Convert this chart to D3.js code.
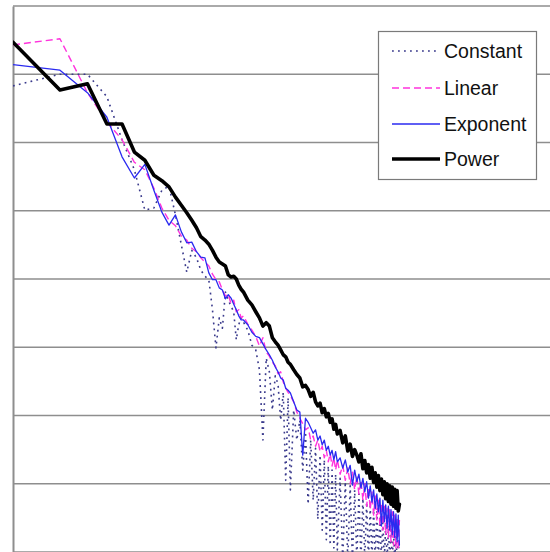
<!DOCTYPE html>
<html>
<head>
<meta charset="utf-8">
<script src="https://cdn.jsdelivr.net/npm/d3@7"></script>
<style>
  html, body { margin: 0; padding: 0; background: #fff; }
  svg { display: block; }
</style>
</head>
<body>
<script>
// Node degree (x) for every sample of the four degree distributions
const degrees = [
  1, 2, 3, 4, 5, 6, 7, 8, 9, 10,
  11, 12, 13, 14, 15, 16, 17, 18, 19, 20,
  21, 22, 23, 24, 25, 26, 27, 28, 29, 30,
  32, 34, 36, 38, 40, 42, 44, 46, 48, 50, 52, 54, 56, 58, 60,
  63, 66, 69, 72, 75, 78, 81, 84, 87, 90, 93, 96, 99, 102, 105, 108, 111, 114, 117, 120,
  125, 130, 135, 140, 145, 150, 155, 160, 165, 170, 175, 180, 185, 190, 195, 200,
  205, 210, 215, 220, 225, 230, 235, 240, 245, 250, 255, 260, 265, 270, 275, 280,
  285, 290, 295, 300
];

const seriesNames = ["Constant", "Linear", "Exponent", "Power"];

// log10 of the share of nodes with each degree
const constantLog10 = [
  -1.17, -1.00, -1.00, -1.33, -1.96, -2.40, -2.99, -2.96, -2.70, -2.64,
  -3.06, -3.50, -3.90, -3.58, -3.69, -3.87, -3.96, -4.01, -4.45, -5.01,
  -4.57, -4.72, -4.19, -4.31, -4.40, -4.48, -4.89, -4.67, -4.57, -4.63,
  -4.75, -4.97, -5.04, -5.33, -6.36, -5.16, -5.36, -5.92, -5.42, -5.54, -6.07, -5.66, -6.95, -5.74, -7.09,
  -5.92, -6.36, -6.07, -6.80, -6.24, -7.30, -6.36, -7.24, -6.48, -7.52, -6.58, -7.68, -6.65, -7.82, -6.74, -7.90, -6.80, -7.94, -6.86, -7.97,
  -6.92, -8.12, -6.97, -8.12, -7.03, -8.12, -7.09, -8.12, -7.15, -8.12, -7.21, -8.12, -7.27, -8.12, -7.33, -8.12,
  -7.38, -8.12, -7.41, -8.12, -7.47, -8.12, -7.53, -8.12, -7.59, -8.12, -7.65, -8.12, -7.68, -8.12, -7.71, -8.12,
  -7.75, -8.12, -7.80, -8.12
];

const linearLog10 = [
  -0.57, -0.48, -1.27, -1.70, -1.96, -2.29, -2.40, -2.67, -2.96, -3.14,
  -3.22, -3.37, -3.43, -3.55, -3.60, -3.69, -3.75, -3.81, -3.93, -4.01,
  -4.04, -4.16, -4.25, -4.22, -4.37, -4.31, -4.48, -4.45, -4.57, -4.54,
  -4.66, -4.75, -4.84, -4.98, -4.86, -5.07, -5.13, -5.22, -5.27, -5.39, -5.36, -5.51, -5.60, -5.66, -5.71,
  -5.80, -5.95, -6.04, -6.12, -6.21, -6.18, -6.36, -6.30, -6.45, -6.36, -6.53, -6.45, -6.62, -6.51, -6.68, -6.56, -6.74, -6.62, -6.80, -6.65,
  -6.86, -6.73, -6.95, -6.77, -7.00, -6.83, -7.09, -6.89, -7.15, -6.95, -7.24, -7.00, -7.33, -7.06, -7.38, -7.12,
  -7.46, -7.18, -7.53, -7.24, -7.62, -7.28, -7.68, -7.33, -7.74, -7.36, -7.79, -7.38, -7.85, -7.41, -7.90, -7.46,
  -7.94, -7.49, -7.97, -7.53
];

const exponentLog10 = [
  -0.86, -0.94, -1.27, -1.63, -2.21, -2.52, -2.32, -2.70, -3.02, -3.21,
  -3.06, -3.31, -3.47, -3.46, -3.60, -3.68, -3.69, -3.91, -4.01, -4.01,
  -4.13, -4.16, -4.29, -4.23, -4.28, -4.37, -4.45, -4.54, -4.60, -4.60,
  -4.67, -4.78, -4.84, -4.86, -4.95, -5.04, -5.11, -5.19, -5.29, -5.36, -5.45, -5.48, -5.60, -5.63, -5.67,
  -5.80, -5.92, -5.95, -6.58, -6.04, -6.10, -6.18, -6.26, -6.21, -6.36, -6.30, -6.43, -6.36, -6.51, -6.45, -6.58, -6.51, -6.65, -6.53, -6.68,
  -6.62, -6.77, -6.65, -6.83, -6.73, -7.02, -6.80, -6.97, -6.86, -7.06, -6.92, -7.12, -6.97, -7.21, -7.03, -7.27,
  -7.09, -7.36, -7.15, -7.41, -7.21, -7.62, -7.24, -7.56, -7.31, -7.65, -7.33, -7.68, -7.38, -7.75, -7.41, -7.79,
  -7.44, -7.85, -7.46, -7.90
];

const powerLog10 = [
  -0.53, -1.23, -1.14, -1.73, -1.73, -2.14, -2.26, -2.48, -2.56, -2.65,
  -2.80, -2.92, -3.03, -3.14, -3.25, -3.38, -3.43, -3.49, -3.58, -3.68,
  -3.75, -3.78, -3.81, -3.94, -3.97, -3.96, -4.00, -4.09, -4.15, -4.19,
  -4.31, -4.38, -4.48, -4.57, -4.69, -4.64, -4.69, -4.86, -4.92, -4.97, -5.04, -5.11, -5.14, -5.22, -5.25,
  -5.33, -5.40, -5.45, -5.58, -5.56, -5.62, -5.72, -5.66, -5.80, -5.86, -5.82, -5.96, -5.90, -6.02, -5.97, -6.10, -6.05, -6.20, -6.13, -6.27,
  -6.22, -6.40, -6.30, -6.52, -6.42, -6.60, -6.50, -6.58, -6.68, -6.56, -6.78, -6.66, -6.84, -6.72, -6.92, -6.76,
  -6.98, -6.84, -7.05, -6.88, -7.10, -6.93, -7.16, -6.97, -7.22, -7.00, -7.26, -7.03, -7.30, -7.05, -7.33, -7.08,
  -7.36, -7.10, -7.40, -7.30
];

// Decade gridlines of the probability axis
const yGridExponents = [0, -1, -2, -3, -4, -5, -6, -7, -8];

const width = 550, height = 552;
const plot = { left: 13, top: 6, right: 550, bottom: 552 };

const svg = d3.select("body").append("svg")
  .attr("width", width)
  .attr("height", height)
  .style("font-family", "'Liberation Sans', Arial, sans-serif");

const x = d3.scaleLog().domain([1, 2770]).range([plot.left, plot.right]);
const y = d3.scaleLog().domain([1e-8, 1]).range([plot.bottom, plot.top]);

// Horizontal gridlines at every decade
svg.append("g")
  .selectAll("line")
  .data(yGridExponents)
  .join("line")
  .attr("x1", plot.left)
  .attr("x2", plot.right)
  .attr("y1", d => y(Math.pow(10, d)))
  .attr("y2", d => y(Math.pow(10, d)))
  .attr("stroke", "#8e8e8e")
  .attr("stroke-width", 1.6);

// Left value axis line (no tick labels)
const yAxis = d3.axisLeft(y).tickValues([]).tickSizeOuter(0);
svg.append("g")
  .attr("transform", `translate(${plot.left},0)`)
  .call(yAxis)
  .call(g => g.select(".domain").attr("stroke", "#8e8e8e").attr("stroke-width", 2));

svg.append("clipPath").attr("id", "plot-clip")
  .append("rect")
  .attr("x", plot.left)
  .attr("y", plot.top)
  .attr("width", plot.right - plot.left)
  .attr("height", plot.bottom - plot.top);

const styles = {
  Constant: { color: "#3a3a8c", width: 1.6, dash: "1.8,4.2", values: constantLog10 },
  Linear:   { color: "#ff33dd", width: 1.4, dash: "7,4",     values: linearLog10 },
  Exponent: { color: "#2a2af0", width: 1.3, dash: null,      values: exponentLog10 },
  Power:    { color: "#000000", width: 3.6, dash: null,      values: powerLog10 }
};

const line = d3.line()
  .x(d => x(d[0]))
  .y(d => y(d[1]));

const lines = svg.append("g").attr("clip-path", "url(#plot-clip)");
seriesNames.forEach(name => {
  const s = styles[name];
  const pts = degrees.map((deg, i) => [deg, Math.pow(10, s.values[i])]);
  lines.append("path")
    .datum(pts)
    .attr("d", line)
    .attr("fill", "none")
    .attr("stroke", s.color)
    .attr("stroke-width", s.width)
    .attr("stroke-linejoin", "round")
    .attr("stroke-linecap", s.dash ? "butt" : "round")
    .attr("stroke-dasharray", s.dash);
});

// Legend
const legend = svg.append("g");
legend.append("rect")
  .attr("x", 378.5).attr("y", 31.5)
  .attr("width", 158).attr("height", 148)
  .attr("fill", "#fff")
  .attr("stroke", "#7a7a7a")
  .attr("stroke-width", 1.2);

const legendRows = [51, 88, 124, 159];
seriesNames.forEach((name, i) => {
  const s = styles[name];
  const cy = legendRows[i];
  legend.append("line")
    .attr("x1", 392).attr("x2", 440)
    .attr("y1", cy).attr("y2", cy)
    .attr("stroke", s.color)
    .attr("stroke-width", s.width)
    .attr("stroke-dasharray", s.dash);
  legend.append("text")
    .attr("x", 444)
    .attr("y", cy + 7)
    .attr("font-size", 19.5)
    .attr("fill", "#111")
    .text(name);
});
</script>
</body>
</html>
